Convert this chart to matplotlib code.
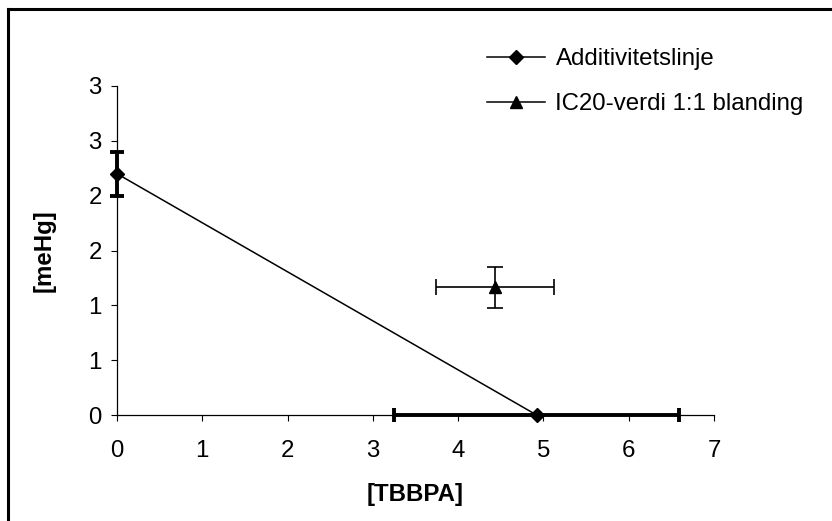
import matplotlib; matplotlib.use("Agg")
import matplotlib.pyplot as plt
from matplotlib.lines import Line2D

plt.rcParams["font.family"] = ["Liberation Sans", "DejaVu Sans"]

# Additivitetslinje (two end points with their error bars)
add_x = [0.0, 4.92]
add_y = [2.2, 0.0]
add_xerr = [0.0, 1.67]
add_yerr = [0.2, 0.0]

# IC20-verdi 1:1 blanding
mix_x = [4.43]
mix_y = [1.166]
mix_xerr = [0.695]
mix_yerr = [0.187]

xticks = [0, 1, 2, 3, 4, 5, 6, 7]
yticks = [0, 0.5, 1.0, 1.5, 2.0, 2.5, 3.0]
ytick_labels = ["0", "1", "1", "2", "2", "3", "3"]   # Excel rounds to integers

FS = 17.3

fig = plt.figure(figsize=(8.32, 5.21), dpi=100)
ax = fig.add_axes([117/832, 1-415/521, 597/832, 329/521])

ax.errorbar(add_x, add_y, xerr=add_xerr, yerr=add_yerr, color="black", lw=1.1,
            marker="D", ms=7, elinewidth=2.8, capsize=5, capthick=2.8, clip_on=False, zorder=3)
ax.errorbar(mix_x, mix_y, xerr=mix_xerr, yerr=mix_yerr, color="black", lw=1.1,
            marker="^", ms=9, elinewidth=1.2, capsize=6, capthick=1.2, ls="none", zorder=3)

ax.set_xlim(0, 7); ax.set_ylim(0, 3)
ax.set_xticks(xticks)
ax.set_yticks(yticks); ax.set_yticklabels(ytick_labels)
for s in ["top", "right"]:
    ax.spines[s].set_visible(False)
for s in ["left", "bottom"]:
    ax.spines[s].set_linewidth(0.9)
ax.tick_params(axis="x", direction="out", length=4, width=0.8, labelsize=FS, pad=14)
ax.tick_params(axis="y", direction="out", length=4, width=0.8, labelsize=FS, pad=7)
ax.set_xlabel("[TBBPA]", fontsize=FS, fontweight="bold", labelpad=15)
ax.set_ylabel("[meHg]", fontsize=FS, fontweight="bold")
ax.yaxis.set_label_coords(-0.102, 0.5)

handles = [Line2D([], [], color="black", lw=1.1, marker="D", ms=7),
           Line2D([], [], color="black", lw=1.1, marker="^", ms=9)]
fig.legend(handles, ["Additivitetslinje", "IC20-verdi 1:1 blanding"], loc="upper left",
           bbox_to_anchor=(475/832, 1-36/521), frameon=False, fontsize=FS,
           handlelength=2.4, handletextpad=0.45, labelspacing=0.97, borderpad=0)

# outer chart frame (only left and top edges visible in the crop)
fig.add_artist(Line2D([8/832, 8/832], [0, 1-9/521], color="black", lw=2.2))
fig.add_artist(Line2D([8/832, 1], [1-9/521, 1-9/521], color="black", lw=2.2))

fig.savefig("out.png", dpi=100)
